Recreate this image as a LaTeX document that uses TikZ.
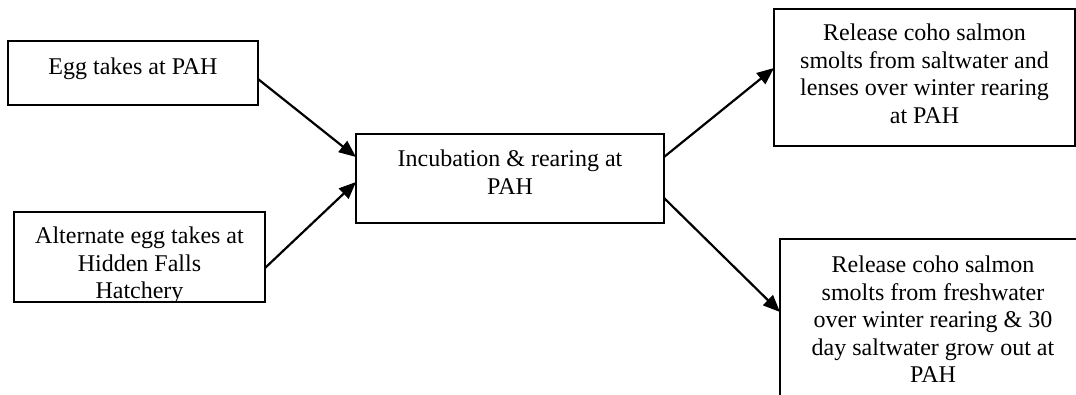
\documentclass[tikz,border=0pt]{standalone}
\usepackage{fontspec}
\setmainfont{Liberation Serif}
\usetikzlibrary{arrows.meta,calc}
\begin{document}
\begin{tikzpicture}[x=1pt,y=-1pt,
  box/.style={draw,line width=1.6pt,inner sep=0pt,outer sep=0pt},
  lbl/.style={font=\fontsize{24}{27.5}\selectfont,align=center,inner sep=0pt,anchor=north},
  arr/.style={line width=2.2pt,-{Triangle[length=17pt,width=14pt]}}]
\useasboundingbox (0,0) rectangle (1076,394);
\clip (0,0) rectangle (1076,394);
% boxes
\node[box,minimum width=250pt,minimum height=64pt] (b1) at (133,73) {};
\node[box,minimum width=251pt,minimum height=90pt] (b2) at (139.5,257) {};
\node[box,minimum width=308pt,minimum height=89pt] (b3) at (510,178.5) {};
\node[box,minimum width=301pt,minimum height=137pt] (b4) at (924.5,77.5) {};
\node[box,minimum width=306pt,minimum height=182pt] (b5) at (933,330) {};
% labels
\node[lbl] (t1) at ($(b1.north)+(0,17)$) {Egg takes at PAH};
\begin{scope}
  \clip (b2.south west) rectangle (b2.north east);
  \node[lbl] (t2) at ($(b2.north)+(0,15)$) {Alternate egg takes at\\Hidden Falls\\Hatchery};
\end{scope}
\node[lbl] (t3) at ($(b3.north)+(0,16)$) {Incubation \& rearing at\\PAH};
\node[lbl] (t4) at ($(b4.north)+(0,15)$) {Release coho salmon\\smolts from saltwater and\\lenses over winter rearing\\at PAH};
\node[lbl] (t5) at ($(b5.north)+(0,17)$) {Release coho salmon\\smolts from freshwater\\over winter rearing \& 30\\day saltwater grow out at\\PAH};
% connectors
\draw[arr] ($(b1.east)+(0,6)$) -- ($(b3.west)+(0,-21.5)$);
\draw[arr] ($(b2.east)+(0,11)$) -- ($(b3.west)+(0,3.5)$);
\draw[arr] ($(b3.east)+(0,-21.5)$) -- ($(b4.west)+(0,-9.5)$);
\draw[arr] ($(b3.east)+(0,19.5)$) -- ($(b5.west)+(0,-18)$);
\end{tikzpicture}
\end{document}
